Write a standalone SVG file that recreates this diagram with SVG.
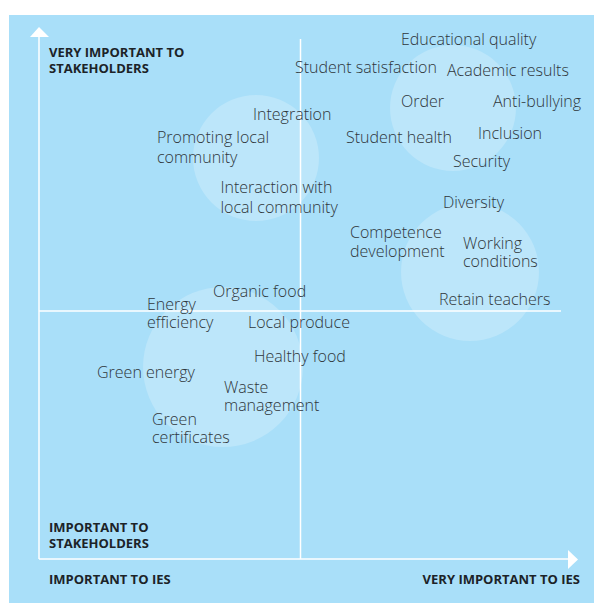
<svg xmlns="http://www.w3.org/2000/svg" width="594" height="603" viewBox="0 0 594 603">
  <style>
    .item { font-family: "Open Sans", "DejaVu Sans", sans-serif; font-size: 16px; font-weight: 300; fill: #2f363b; }
    .axis-label { font-family: "Open Sans", "DejaVu Sans", sans-serif; font-size: 13px; font-weight: 700; fill: #1c2328; }
    .bubble { fill: #ffffff; fill-opacity: 0.22; }
    .grid { stroke: #ffffff; stroke-width: 1.5; fill: none; }
    .arrowhead { fill: #ffffff; }
  </style>

  <!-- panel -->
  <rect x="9" y="15" width="585" height="588" fill="#a9dff9"/>

  <!-- highlight bubbles -->
  <g id="bubbles">
    <circle class="bubble" cx="453" cy="108" r="63"/>
    <circle class="bubble" cx="256" cy="158" r="63"/>
    <circle class="bubble" cx="470" cy="272" r="69"/>
    <circle class="bubble" cx="223" cy="367" r="80"/>
  </g>

  <!-- axes and quadrant dividers -->
  <g id="connectors">
    <line class="grid" x1="39" y1="36" x2="39" y2="559"/>
    <line class="grid" x1="39" y1="559" x2="569" y2="559"/>
    <polygon class="arrowhead" points="39,27 49,37 30,37"/>
    <polygon class="arrowhead" points="578,559.5 568,550 568,569"/>
    <line class="grid" x1="300.5" y1="39" x2="300.5" y2="559"/>
    <line class="grid" x1="39" y1="311" x2="561" y2="311"/>
  </g>

  <!-- axis captions -->
  <g id="axis-labels">
    <text class="axis-label" x="49" y="57">VERY IMPORTANT TO</text>
    <text class="axis-label" x="49" y="73">STAKEHOLDERS</text>
    <text class="axis-label" x="49" y="532">IMPORTANT TO</text>
    <text class="axis-label" x="49" y="548">STAKEHOLDERS</text>
    <text class="axis-label" x="49" y="584">IMPORTANT TO IES</text>
    <text class="axis-label" x="580" y="584" text-anchor="end">VERY IMPORTANT TO IES</text>
  </g>

  <!-- topics -->
  <g id="educational-quality"><text class="item" x="401" y="45">Educational quality</text></g>
  <g id="student-satisfaction"><text class="item" x="295" y="73">Student satisfaction</text></g>
  <g id="academic-results"><text class="item" x="447" y="76">Academic results</text></g>
  <g id="order"><text class="item" x="401" y="107">Order</text></g>
  <g id="anti-bullying"><text class="item" x="493" y="107">Anti-bullying</text></g>
  <g id="integration"><text class="item" x="253" y="120">Integration</text></g>
  <g id="student-health"><text class="item" x="346" y="143">Student health</text></g>
  <g id="inclusion"><text class="item" x="478" y="139">Inclusion</text></g>
  <g id="promoting-local-community">
    <text class="item" x="157" y="143">Promoting local</text>
    <text class="item" x="157" y="163">community</text>
  </g>
  <g id="security"><text class="item" x="453" y="167">Security</text></g>
  <g id="interaction-local-community">
    <text class="item" x="220.5" y="193">Interaction with</text>
    <text class="item" x="220.5" y="213">local community</text>
  </g>
  <g id="diversity"><text class="item" x="443" y="208">Diversity</text></g>
  <g id="competence-development">
    <text class="item" x="350" y="238">Competence</text>
    <text class="item" x="350" y="257">development</text>
  </g>
  <g id="working-conditions">
    <text class="item" x="463" y="249">Working</text>
    <text class="item" x="463" y="267">conditions</text>
  </g>
  <g id="organic-food"><text class="item" x="213" y="297">Organic food</text></g>
  <g id="retain-teachers"><text class="item" x="439" y="305">Retain teachers</text></g>
  <g id="energy-efficiency">
    <text class="item" x="147" y="310">Energy</text>
    <text class="item" x="147" y="328">efficiency</text>
  </g>
  <g id="local-produce"><text class="item" x="248" y="328">Local produce</text></g>
  <g id="healthy-food"><text class="item" x="254" y="362">Healthy food</text></g>
  <g id="green-energy"><text class="item" x="97" y="378">Green energy</text></g>
  <g id="waste-management">
    <text class="item" x="224" y="393">Waste</text>
    <text class="item" x="224" y="411">management</text>
  </g>
  <g id="green-certificates">
    <text class="item" x="152" y="425">Green</text>
    <text class="item" x="152" y="443">certificates</text>
  </g>
</svg>
